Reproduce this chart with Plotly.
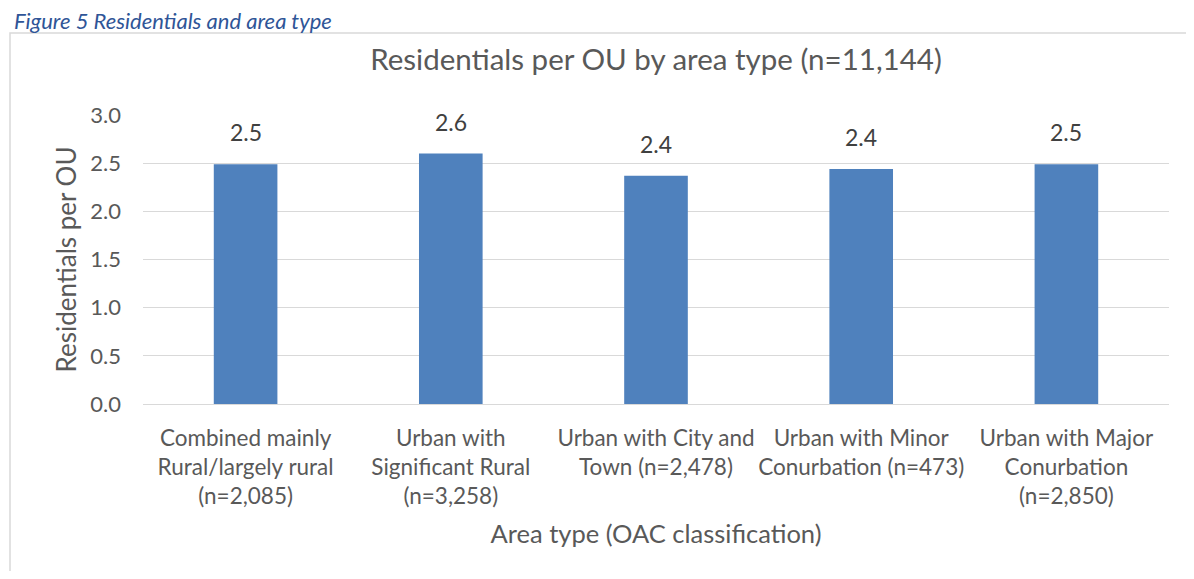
import plotly.graph_objects as go

# Chart data
categories = [
    "Combined mainly<br>Rural/largely rural<br>(n=2,085)",
    "Urban with<br>Significant Rural<br>(n=3,258)",
    "Urban with City and<br>Town (n=2,478)",
    "Urban with Minor<br>Conurbation (n=473)",
    "Urban with Major<br>Conurbation<br>(n=2,850)",
]
residentials_per_ou = [2.49, 2.60, 2.37, 2.44, 2.49]
bar_labels = ["2.5", "2.6", "2.4", "2.4", "2.5"]
y_ticks = [0.0, 0.5, 1.0, 1.5, 2.0, 2.5, 3.0]
y_tick_labels = ["0.0", "0.5", "1.0", "1.5", "2.0", "2.5", "3.0"]

font_name = "Lato"
OFF = 8  # page body margin
W, H = 1194 - 2 * OFF, 579 - 2 * OFF
ml, mt = 143 - OFF, 115 - OFF
mr = W - (1169 - OFF)
mb = H - (404 - OFF)
pw, ph = W - ml - mr, H - mt - mb


# screen pixel -> paper coordinates
def px_x(x):
    return (x - OFF - ml) / pw


def px_y(y):
    return (H - mb - (y - OFF)) / ph


fig = go.Figure()

fig.add_trace(
    go.Bar(
        x = categories,
        y = residentials_per_ou,
        marker = dict(color = '#4F81BD', line = dict(width = 0)),
        width = 0.31))

# data labels above each bar
for cat, val, lab in zip(categories, residentials_per_ou, bar_labels):
    fig.add_annotation(
        x = cat, y = val, text = lab,
        xref = 'x', yref = 'y',
        yanchor = 'bottom', yshift = 16,
        showarrow = False,
        font = dict(family = font_name, size = 23, color = '#404040'))

# chart border (extends past right and bottom edges)
fig.add_shape(
    type = 'rect', xref = 'paper', yref = 'paper',
    x0 = px_x(10), x1 = px_x(1230), y0 = px_y(620), y1 = px_y(33),
    line = dict(color = '#D9D9D9', width = 1.5),
    layer = 'below')

# caption above the chart
fig.add_annotation(
    text = "<i>Figure 5 Residentials and area type</i>",
    xref = 'paper', yref = 'paper',
    x = px_x(12), y = px_y(20),
    xanchor = 'left', yanchor = 'middle',
    showarrow = False,
    font = dict(family = font_name, size = 22, color = '#2F5597'))

fig.update_layout(
    title = dict(
        text = "Residentials per OU by area type (n=11,144)",
        x = 0.5, xref = 'paper', y = 1 - (60 - OFF) / H, yanchor = 'middle',
        font = dict(family = font_name, size = 29.5, color = '#595959')),
    xaxis = dict(
        title = dict(
            text = "Area type (OAC classification)",
            font = dict(family = font_name, size = 25.5, color = '#595959'),
            standoff = 17),
        tickfont = dict(family = font_name, size = 22.5, color = '#595959'),
        ticklabelstandoff = 18,
        showline = False, showgrid = False, ticks = ''),
    yaxis = dict(
        title = dict(
            text = "Residentials per OU",
            font = dict(family = font_name, size = 26, color = '#595959'),
            standoff = 6),
        range = [0, 3],
        tickvals = y_ticks,
        ticktext = y_tick_labels,
        tickfont = dict(family = font_name, size = 22, color = '#595959'),
        ticklabelstandoff = 21,
        gridcolor = '#D9D9D9', gridwidth = 1,
        zeroline = True, zerolinecolor = '#D9D9D9', zerolinewidth = 1,
        showline = False, ticks = ''),
    plot_bgcolor = 'white',
    paper_bgcolor = 'white',
    showlegend = False,
    autosize = False,
    width = W,
    height = H,
    margin = dict(l = ml, r = mr, t = mt, b = mb))

fig.write_html("out.html")
